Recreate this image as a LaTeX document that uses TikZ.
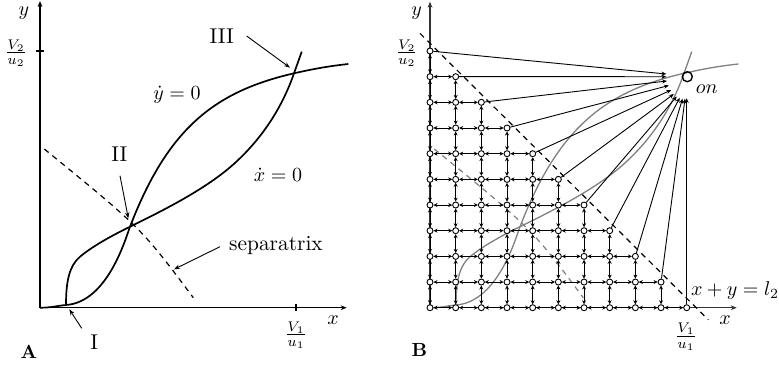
\documentclass[tikz,border=0pt]{standalone}
\usepackage{fontspec}
\usetikzlibrary{arrows.meta}
\newcommand{\phasecurves}[1]{%
  \draw[#1] (40,307.7) .. controls (52,307.7) and (58,305.6) .. (66,305)
     .. controls (108,302) and (126,237.1) .. (130,226.7)
     .. controls (168,127.9) and (215,91.5) .. (294,73.3)
     .. controls (315,68.5) and (330,66) .. (348.3,64);
  \draw[#1] (66,305) .. controls (66,282) and (69,266) .. (80,256.7)
     .. controls (92,246.7) and (110,236.5) .. (130,226.7)
     .. controls (165,209.5) and (208,188) .. (236,162)
     .. controls (262,138) and (282,108) .. (294,73.3)
     .. controls (297,64.9) and (299.5,58) .. (301.7,51.7);
}
\newcommand{\sepcurve}[1]{\draw[#1] (44.3,149) .. controls (141.2,228) .. (193.3,297.7);}
\begin{document}
\begin{tikzpicture}[x=0.5pt,y=-0.5pt,
  every node/.style={font=\fontsize{10.7}{13}\selectfont, inner sep=0pt},
  mth/.style={font=\fontsize{10}{12}\selectfont},
  axis/.style={line width=0.6pt, -{Stealth[length=3pt,width=2.4pt]}},
  curve/.style={line width=0.85pt},
  gcurve/.style={line width=0.65pt, gray},
  sepline/.style={line width=0.6pt, dash pattern=on 2.8pt off 2.4pt},
  ann/.style={line width=0.45pt, -{Stealth[length=3pt,width=2.2pt]}},
  dot/.style={circle, draw, fill=white, line width=0.45pt, minimum size=3pt, inner sep=0pt},
  gridarr/.style={line width=0.5pt, {Stealth[length=2pt,width=2pt]}-{Stealth[length=2pt,width=2pt]}},
  longarr/.style={line width=0.45pt, -{Stealth[length=2.4pt,width=2pt]}},
  panel/.style={font=\fontsize{9.5}{11}\selectfont\bfseries}
]
\useasboundingbox (0,0) rectangle (779,365);

% ---------------- Panel A ----------------
\coordinate (A-o) at (40,307.7);
\coordinate (A-ytop) at (40,1);
\coordinate (A-xend) at (346.7,307.7);
\draw[axis] (A-o) -- (A-ytop);
\draw[axis] (A-o) -- (A-xend);
\draw[line width=0.6pt] (35.7,51) -- (44.3,51);
\draw[line width=0.6pt] (296,304.3) -- (296,311);

\phasecurves{curve}
\sepcurve{sepline}

\node[mth] (A-ylab) at (24,13) {$y$};
\node[mth] (A-xlab) at (333,320) {$x$};
\node[mth] (A-V2) at (16,53) {$\frac{V_2}{u_2}$};
\node[mth] (A-V1) at (296,335) {$\frac{V_1}{u_1}$};
\node[panel] (A-lab) at (29,352) {A};
\node (III) at (221.7,36) {III};
\node (II) at (119.3,154) {II};
\node (I) at (94.3,341.7) {I};
\node (sepl) at (276,246) {separatrix};
\node[mth] (ydot) at (177,95) {$\dot y = 0$};
\node[mth] (xdot) at (278,175) {$\dot x = 0$};

\coordinate (c3s) at (246.7,36);   \coordinate (c3e) at (290,67.7);
\coordinate (c2s) at (120,175.7);  \coordinate (c2e) at (128.3,218.3);
\coordinate (c1s) at (81.7,328.3); \coordinate (c1e) at (69.3,309.3);
\coordinate (css) at (220,246.7);  \coordinate (cse) at (174,269.3);
\draw[ann] (c3s) -- (c3e);
\draw[ann] (c2s) -- (c2e);
\draw[ann] (c1s) -- (c1e);
\draw[ann] (css) -- (cse);

% ---------------- Panel B ----------------
\coordinate (B-o) at (430,307.7);
\coordinate (B-ytop) at (430,1.7);
\coordinate (B-xend) at (736.7,307.7);
\draw[axis, black!80] (B-o) -- (B-ytop);
\draw[axis, black!80] (B-o) -- (B-xend);

\begin{scope}[xshift=195pt]
  \phasecurves{gcurve}
  \sepcurve{sepline, gray}
\end{scope}

\coordinate (l2a) at (420,33.4);
\coordinate (l2b) at (708.3,319.8);
\draw[sepline] (l2a) -- (l2b);

% grid nodes
\foreach \i in {0,...,10} {
  \pgfmathtruncatemacro\jmax{10-\i}
  \foreach \j in {0,...,\jmax} {
    \node[dot] (n-\i-\j) at ({430+25.67*\i},{307.7-25.67*\j}) {};
  }
}
% grid arrows
\foreach \i in {0,...,9} {
  \pgfmathtruncatemacro\jmax{9-\i}
  \foreach \j in {0,...,\jmax} {
    \pgfmathtruncatemacro\ii{\i+1}
    \pgfmathtruncatemacro\jj{\j+1}
    \draw[gridarr] (n-\i-\j) -- (n-\ii-\j);
    \draw[gridarr] (n-\i-\j) -- (n-\i-\jj);
  }
}
% targets near "on"
\foreach \k/\px/\py in {0/666.3/74, 1/666.3/76.7, 2/667/81, 3/668.8/85.5, 4/671.2/90, 5/673.8/94, 6/676.7/96.5, 7/679.7/97.8, 8/682.5/98.7, 9/685/98.7, 10/686.7/98.3} {
  \coordinate (t\k) at (\px,\py);
}
\foreach \i in {0,...,10} {
  \pgfmathtruncatemacro\j{10-\i}
  \draw[longarr] (n-\i-\j) -- (t\i);
}

\node[circle, draw, line width=0.7pt, minimum size=5pt, inner sep=0pt] (on) at (687.3,76.7) {};
\node[mth] (onlab) at (706.7,89.3) {$on$};
\node[mth] (l2lab) at (735,290) {$x+y=l_2$};
\node[mth] (B-ylab) at (416.7,12.7) {$y$};
\node[mth] (B-xlab) at (725,320) {$x$};
\node[mth] (B-V2) at (406.7,53.3) {$\frac{V_2}{u_2}$};
\node[mth] (B-V1) at (686,336.7) {$\frac{V_1}{u_1}$};
\node[panel] (B-lab) at (419.3,350) {B};
\end{tikzpicture}
\end{document}
